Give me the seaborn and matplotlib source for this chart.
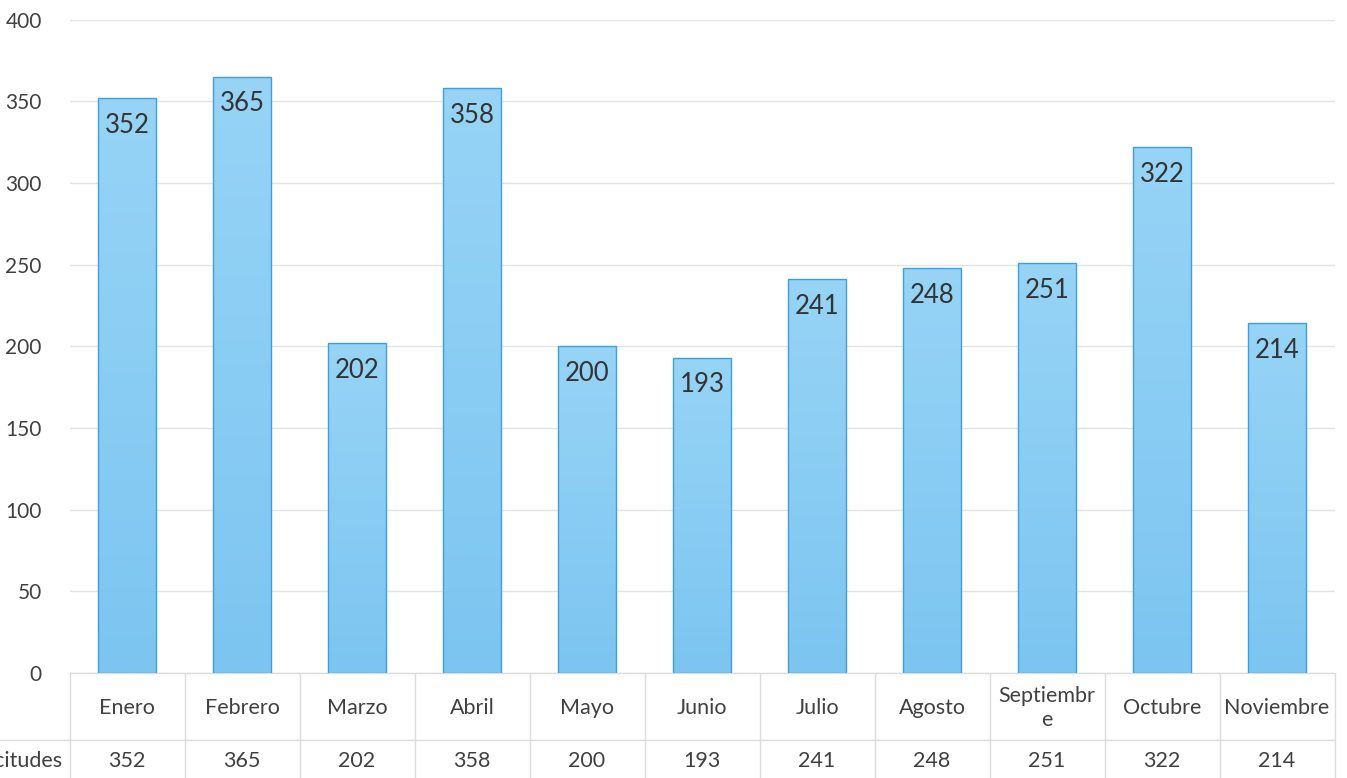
import numpy as np
import pandas as pd
import matplotlib
matplotlib.use("Agg")
import matplotlib.pyplot as plt
import seaborn as sns

# data
meses = ["Enero", "Febrero", "Marzo", "Abril", "Mayo", "Junio", "Julio",
         "Agosto", "Septiembr\ne", "Octubre", "Noviembre"]
solicitudes = [352, 365, 202, 358, 200, 193, 241, 248, 251, 322, 214]
serie = "Solicitudes"
yticks = [0, 50, 100, 150, 200, 250, 300, 350, 400]

df = pd.DataFrame({"mes": meses, "valor": solicitudes})

sns.set_style("white")
plt.rcParams["font.family"] = ["Lato", "DejaVu Sans"]

W, H = 1347, 778
fig = plt.figure(figsize=(W / 100, H / 100), dpi=100)
ax = fig.add_axes([69.5 / W, (H - 673) / H, 1265 / W, (673 - 19.5) / H])

sns.barplot(data=df, x="mes", y="valor", ax=ax, width=0.5,
            color="#86ccf3", edgecolor="#3d9ee0", linewidth=1.0, zorder=3)

# gradient fill inside each bar
grad = np.linspace(0, 1, 256).reshape(-1, 1)
cmap = matplotlib.colors.LinearSegmentedColormap.from_list("g", ["#97d4f6", "#7cc5f1"])
for p in ax.patches:
    x0, y0 = p.get_x(), p.get_y()
    w, h = p.get_width(), p.get_height()
    im = ax.imshow(grad, cmap=cmap, aspect="auto", extent=[x0, x0 + w, y0, y0 + h],
                   origin="upper", zorder=3.5)
    im.set_clip_path(p)
    p.set_facecolor("none")
    p.set_zorder(4)

ax.set_xlim(-0.5, len(meses) - 0.5)
ax.set_ylim(0, 400)
ax.set_yticks(yticks)
ax.set_yticklabels([str(v) for v in yticks], fontsize=15, color="#404040")
ax.tick_params(axis="y", length=0, pad=20)
ax.set_xticks([])
ax.set_xlabel("")
ax.set_ylabel("")
for s in ax.spines.values():
    s.set_visible(False)
ax.grid(axis="y", color="#e2e2e2", linewidth=1, zorder=0)

# value labels inside top of bars
for i, v in enumerate(solicitudes):
    ax.text(i, v - 9, str(v), ha="center", va="top", fontsize=18.5, color="#333333", zorder=5)

# data table below the axis
trans = ax.get_xaxis_transform()
lc = "#dcdcdc"
row1 = -(740 - 673) / (673 - 19.5)
row2 = -(778 - 673) / (673 - 19.5)
ax.plot([-0.5, len(meses) - 0.5], [0, 0], transform=trans, color=lc, lw=1, clip_on=False, zorder=2)
ax.plot([-1.5, len(meses) - 0.5], [row1, row1], transform=trans, color=lc, lw=1, clip_on=False)
for k in range(len(meses) + 1):
    ax.plot([k - 0.5, k - 0.5], [0, row2 - 0.1], transform=trans, color=lc, lw=1, clip_on=False)
for i, (m, v) in enumerate(zip(meses, solicitudes)):
    ax.text(i, row1 / 2 - 0.003, m, transform=trans, ha="center", va="center", fontsize=15.5,
            color="#404040", linespacing=1.25)
    ax.text(i, (row1 + row2) / 2 - 0.003, str(v), transform=trans, ha="center", va="center",
            fontsize=15.5, color="#404040")
fig.text(62 / W, 1 - 761 / H, serie, ha="right", va="center", fontsize=15.5, color="#404040")

fig.savefig("out.png", dpi=100)
